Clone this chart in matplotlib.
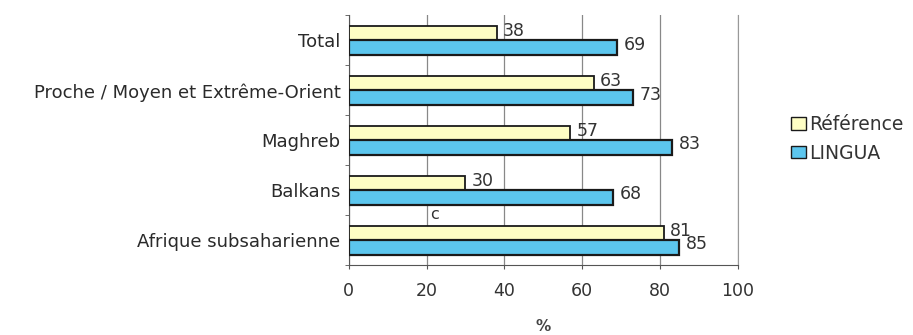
"""Horizontal grouped bar chart: Référence vs LINGUA by region of origin."""

import matplotlib

matplotlib.use("Agg")
import matplotlib.pyplot as plt
import numpy as np
from matplotlib.patches import Patch

plt.rcParams["font.family"] = ["DejaVu Sans"]

CATEGORIES = [
    "Total",
    "Proche / Moyen et Extrême-Orient",
    "Maghreb",
    "Balkans",
    "Afrique subsaharienne",
]
REFERENCE = [38, 63, 57, 30, 81]
LINGUA = [69, 73, 83, 68, 85]
X_TICKS = [0, 20, 40, 60, 80, 100]

REF_COLOR = "#fdfdc4"
LINGUA_COLOR = "#5cc6ee"
EDGE_COLOR = "#1a1a1a"
TEXT_COLOR = "#333333"
BAR_HEIGHT = 0.29


def main() -> None:
    fig = plt.figure(figsize=(9.13, 3.35), dpi=100)
    ax = fig.add_axes([0.382, 0.209, 0.426, 0.745])

    # category 0 at top
    y = np.arange(len(CATEGORIES))[::-1].astype(float)
    ax.barh(y + BAR_HEIGHT / 2, REFERENCE, height=BAR_HEIGHT,
            color=REF_COLOR, edgecolor=EDGE_COLOR, linewidth=1.3, zorder=3)
    ax.barh(y - BAR_HEIGHT / 2, LINGUA, height=BAR_HEIGHT,
            color=LINGUA_COLOR, edgecolor=EDGE_COLOR, linewidth=1.6, zorder=3)

    for yi, ref, lin in zip(y, REFERENCE, LINGUA):
        ax.text(ref + 1.5, yi + BAR_HEIGHT / 2 + 0.04, str(ref),
                fontsize=12.5, color=TEXT_COLOR, va="center", ha="left")
        ax.text(lin + 1.8, yi - BAR_HEIGHT / 2 + 0.06, str(lin),
                fontsize=12.5, color=TEXT_COLOR, va="center", ha="left")

    # stray "c" mark between Balkans and Afrique subsaharienne
    ax.text(21.0, 0.52, "c", fontsize=11.5, color=TEXT_COLOR, va="center", ha="left")

    ax.set_xlim(0, 100)
    ax.set_ylim(-0.5, len(CATEGORIES) - 0.5)
    ax.set_xticks(X_TICKS)
    ax.set_xticklabels([str(t) for t in X_TICKS], fontsize=12.5, color=TEXT_COLOR)
    ax.set_yticks(y)
    ax.set_yticklabels(CATEGORIES, fontsize=13, color="#2a2a2a")
    ax.set_yticks(np.arange(len(CATEGORIES) + 1) - 0.5, minor=True)
    ax.tick_params(axis="y", which="major", length=0, pad=6)
    ax.tick_params(axis="y", which="minor", length=3, color="#555555")
    ax.tick_params(axis="x", length=3, color="#555555", pad=9)

    ax.xaxis.grid(True, color="#888888", linewidth=0.9, zorder=0)
    ax.set_axisbelow(True)

    ax.spines["top"].set_visible(False)
    ax.spines["right"].set_color("#999999")
    ax.spines["left"].set_color("#555555")
    ax.spines["bottom"].set_color("#555555")

    ax.set_xlabel("%", fontsize=11, fontweight="bold", color="#444444", labelpad=14)

    handles = [
        Patch(facecolor=REF_COLOR, edgecolor=EDGE_COLOR, label="Référence"),
        Patch(facecolor=LINGUA_COLOR, edgecolor=EDGE_COLOR, label="LINGUA"),
    ]
    fig.legend(handles=handles, loc="center left", bbox_to_anchor=(0.866, 0.585),
               frameon=False, fontsize=13.5, handlelength=0.8, handleheight=0.65,
               handletextpad=0.2, labelspacing=0.5, labelcolor=TEXT_COLOR,
               borderaxespad=0, borderpad=0)

    fig.savefig("out.png", dpi=100)
    plt.close(fig)


if __name__ == "__main__":
    main()
